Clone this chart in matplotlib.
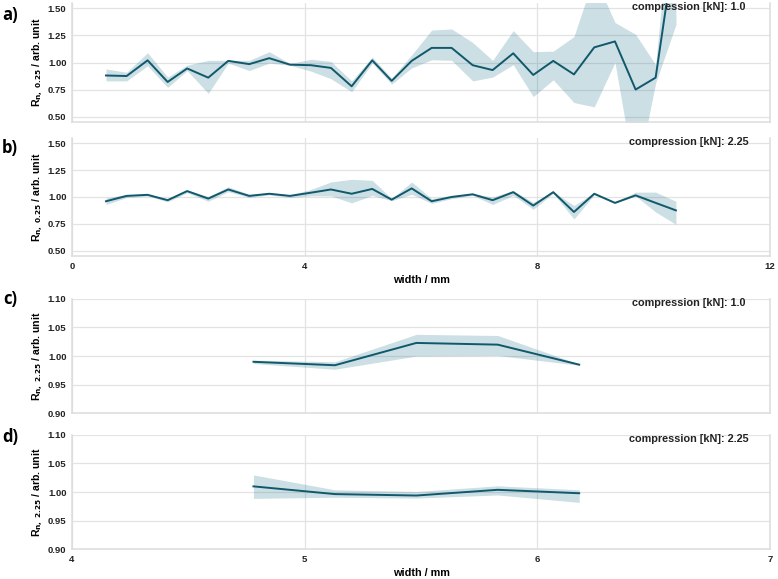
import matplotlib
matplotlib.use("Agg")
import matplotlib.pyplot as plt

# widths (mm) for the 0.25 kN normalisation, panels a) and b)
width_a = [0.585, 0.94, 1.30, 1.645, 1.98, 2.343, 2.687, 3.048, 3.392, 3.748,
           4.109, 4.452, 4.808, 5.162, 5.496, 5.84, 6.184, 6.527, 6.889, 7.232,
           7.586, 7.93, 8.274, 8.63, 8.979, 9.335, 9.69, 10.034, 10.383]

# a) compression 1.0 kN
mean_a = [0.88, 0.875, 1.02, 0.82, 0.945, 0.86, 1.015, 0.985, 1.04, 0.98,
          0.975, 0.95, 0.78, 1.02, 0.83, 1.015, 1.135, 1.135, 0.975, 0.93,
          1.085, 0.885, 1.015, 0.89, 1.14, 1.195, 0.75, 0.86, 2.14]
low_a = [0.83, 0.83, 0.97, 0.77, 0.925, 0.715, 0.995, 0.925, 0.995, 0.975,
         0.92, 0.85, 0.73, 0.995, 0.80, 0.95, 1.025, 1.02, 0.83, 0.865,
         0.98, 0.685, 0.84, 0.63, 0.59, 1.00, -0.10, 0.81, 1.35]
high_a = [0.94, 0.91, 1.09, 0.865, 0.975, 1.02, 1.02, 1.02, 1.10, 0.99,
          1.03, 1.01, 0.83, 1.05, 0.855, 1.07, 1.30, 1.31, 1.185, 1.02,
          1.295, 1.10, 1.105, 1.24, 1.80, 1.37, 1.26, 0.98, 2.90]

# b) compression 2.25 kN
mean_b = [0.96, 1.01, 1.02, 0.97, 1.055, 0.985, 1.07, 1.01, 1.03, 1.01,
          1.04, 1.07, 1.03, 1.075, 0.975, 1.08, 0.96, 1.0, 1.025, 0.97,
          1.045, 0.92, 1.045, 0.86, 1.03, 0.945, 1.015, 0.945, 0.875]
low_b = [0.93, 0.995, 1.01, 0.955, 1.04, 0.96, 1.05, 0.995, 1.02, 0.995,
         1.01, 1.01, 0.945, 1.015, 0.965, 1.025, 0.94, 0.985, 1.015, 0.93,
         1.015, 0.885, 1.035, 0.795, 1.02, 0.94, 1.01, 0.86, 0.745]
high_b = [0.99, 1.025, 1.025, 0.985, 1.065, 1.005, 1.095, 1.025, 1.04, 1.02,
          1.07, 1.14, 1.165, 1.155, 0.985, 1.14, 0.985, 1.015, 1.03, 1.0,
          1.06, 0.95, 1.05, 0.92, 1.04, 0.95, 1.045, 1.045, 0.96]

# widths (mm) for the 2.25 kN normalisation, panels c) and d)
width_c = [4.78, 5.13, 5.48, 5.83, 6.18]

mean_c = [0.99, 0.984, 1.023, 1.020, 0.985]
low_c = [0.987, 0.977, 1.0, 1.001, 0.984]
high_c = [0.993, 0.99, 1.038, 1.036, 0.986]

mean_d = [1.01, 0.9965, 0.994, 1.004, 0.998]
low_d = [0.989, 0.991, 0.9895, 0.995, 0.982]
high_d = [1.03, 1.004, 1.001, 1.011, 1.004]

line_color = "#10586b"
bold = "bold"
font = ["Liberation Sans", "DejaVu Sans"]

fig = plt.figure(figsize=(7.78, 5.79), dpi=100)

panels = [
    ([0.0925, 0.7893, 0.8972, 0.2055], width_a, mean_a, low_a, high_a, "1.0", "a)", 15),
    ([0.0925, 0.5579, 0.8972, 0.2038], width_a, mean_b, low_b, high_b, "2.25", "b)", 148),
    ([0.0925, 0.2862, 0.8972, 0.1976], width_c, mean_c, low_c, high_c, "1.0", "c)", 299),
    ([0.0925, 0.0513, 0.8972, 0.1976], width_c, mean_d, low_d, high_d, "2.25", "d)", 437),
]

for i, (rect, x, m, lo, hi, comp, tag, tag_y) in enumerate(panels):
    ax = fig.add_axes(rect)
    ax.fill_between(x, lo, hi, color="#2b7a90", alpha=0.24, linewidth=0)
    ax.plot(x, m, color=line_color, linewidth=1.4)

    if i < 2:
        ax.set_xlim(0, 12)
        ax.set_xticks([0, 4, 8, 12])
        ax.set_ylim(0.45, 1.55)
        ax.set_yticks([0.5, 0.75, 1.0, 1.25, 1.5])
        ax.set_yticklabels(["0.50", "0.75", "1.00", "1.25", "1.50"])
        ax.set_ylabel("R$_{\\mathbf{n,\\ 0.25}}$ / arb. unit", fontsize=7.6,
                      fontweight=bold, family=font)
    else:
        ax.set_xlim(4, 7)
        ax.set_xticks([4, 5, 6, 7])
        ax.set_ylim(0.9, 1.1)
        ax.set_yticks([0.9, 0.95, 1.0, 1.05, 1.1])
        ax.set_yticklabels(["0.90", "0.95", "1.00", "1.05", "1.10"])
        ax.set_ylabel("R$_{\\mathbf{n,\\ 2.25}}$ / arb. unit", fontsize=7.6,
                      fontweight=bold, family=font)
    ax.yaxis.set_label_coords(-0.039, 0.5)

    if i in (0, 2):
        ax.tick_params(axis="x", labelbottom=False)
    else:
        ax.set_xlabel("width / mm", fontsize=7.8, fontweight=bold, family=font,
                      labelpad=3)

    ax.grid(True, color="#e3e3e3", linewidth=0.9)
    ax.set_axisbelow(True)
    ax.tick_params(length=0, labelsize=6.8, pad=4, colors="#222222")
    for lab in ax.get_xticklabels() + ax.get_yticklabels():
        lab.set_fontweight(bold)
        lab.set_family(font)
    ax.spines["top"].set_visible(False)
    for s in ["left", "right", "bottom"]:
        ax.spines[s].set_color("#dcdcdc")
        ax.spines[s].set_linewidth(1.1)

    ax.text(0.884, 0.965, "compression [kN]: " + comp, transform=ax.transAxes,
            ha="center", va="center", fontsize=7.8, fontweight=bold,
            family=font, color="#222222")

    fig.text(10 / 778, 1 - tag_y / 579, tag, ha="center", va="center",
             fontsize=12, fontweight=bold, family=["Open Sans", "DejaVu Sans"])

fig.savefig("out.png", dpi=100)
